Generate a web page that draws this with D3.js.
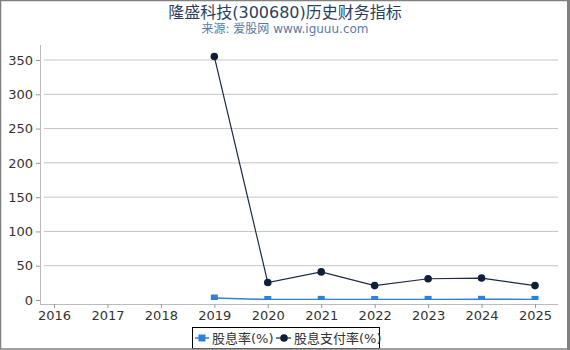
<!DOCTYPE html>
<html>
<head>
<meta charset="utf-8">
<script src="https://cdn.jsdelivr.net/npm/d3@7"></script>
<style>
  body { margin: 0; background: #fff; }
  svg { display: block; font-family: "DejaVu Sans", "Noto Sans CJK SC", sans-serif; }
</style>
</head>
<body>
<svg width="570" height="350"></svg>
<script>
const years = [2016, 2017, 2018, 2019, 2020, 2021, 2022, 2023, 2024, 2025];
const yieldYears = [2019, 2020, 2021, 2022, 2023, 2024, 2025];
const dividendYield = [2.9, 0.8, 0.9, 0.8, 0.9, 1.0, 0.9];
const payoutYears = [2019, 2020, 2021, 2022, 2023, 2024, 2025];
const payoutRatio = [355, 25.5, 41, 21, 31, 32, 21];
const yTicks = [0, 50, 100, 150, 200, 250, 300, 350];

const svg = d3.select("svg");
const W = 570, H = 350;

// --- FRAME ---
svg.append("rect").attr("x", 0).attr("y", 0).attr("width", W).attr("height", H).attr("fill", "#fff");

// --- TITLES ---
svg.append("text").attr("x", 285).attr("y", 18).attr("text-anchor", "middle")
  .attr("font-size", 16).attr("fill", "#2a3f5f").text("隆盛科技(300680)历史财务指标");
svg.append("text").attr("x", 285).attr("y", 33).attr("text-anchor", "middle")
  .attr("font-size", 12).attr("fill", "#5a7aa8").text("来源: 爱股网 www.iguuu.com");

// --- SCALES ---
const x = d3.scaleLinear().domain([2016, 2025]).range([54, 535]);
const y = d3.scaleLinear().domain([0, 350]).range([300, 60]);

// --- GRID ---
svg.append("g").selectAll("line").data(yTicks.filter(d => d > 0)).enter().append("line")
  .attr("x1", 44).attr("x2", 558)
  .attr("y1", d => y(d)).attr("y2", d => y(d))
  .attr("stroke", "#c4c4c4").attr("stroke-width", 1);

// --- Y AXIS ---
const yAxis = svg.append("g").attr("transform", "translate(40,0)")
  .call(d3.axisLeft(y).tickValues(yTicks).tickSize(4).tickPadding(3));
yAxis.select(".domain").attr("d", "M0.5,45V304").attr("stroke", "#bbb");
yAxis.selectAll(".tick line").attr("stroke", "#999");
yAxis.selectAll("text").attr("font-size", 13).attr("fill", "#333").attr("font-family", "DejaVu Sans");

// --- X AXIS ---
const xAxis = svg.append("g").attr("transform", "translate(0,304)")
  .call(d3.axisBottom(x).tickValues(years).tickFormat(d3.format("d")).tickSize(4).tickPadding(3));
xAxis.select(".domain").attr("d", "M40,0.5H558").attr("stroke", "#bbb");
xAxis.selectAll(".tick line").attr("stroke", "#999");
xAxis.selectAll("text").attr("font-size", 13).attr("fill", "#333").attr("font-family", "DejaVu Sans");

// --- CLIP ---
svg.append("clipPath").attr("id", "plot")
  .append("rect").attr("x", 40).attr("y", 40).attr("width", 520).attr("height", 260);

// --- DIVIDEND YIELD ---
const yieldData = yieldYears.map((d, i) => ({ year: d, v: dividendYield[i] }));
const gY = svg.append("g").attr("clip-path", "url(#plot)");
gY.append("path").datum(yieldData)
  .attr("d", d3.line().x(d => x(d.year)).y(d => y(d.v)))
  .attr("fill", "none").attr("stroke", "#2f80d8").attr("stroke-width", 1.5);
gY.selectAll("rect").data(yieldData).enter().append("rect")
  .attr("x", d => x(d.year) - 3.5).attr("y", d => y(d.v) - 3.5)
  .attr("width", 7).attr("height", 7).attr("fill", "#2f80d8");

// --- PAYOUT RATIO ---
const payData = payoutYears.map((d, i) => ({ year: d, v: payoutRatio[i] }));
svg.append("path").datum(payData)
  .attr("d", d3.line().x(d => x(d.year)).y(d => y(d.v)))
  .attr("fill", "none").attr("stroke", "#1b2a44").attr("stroke-width", 1.2);
svg.append("g").selectAll("circle").data(payData).enter().append("circle")
  .attr("cx", d => x(d.year)).attr("cy", d => y(d.v)).attr("r", 3.8)
  .attr("fill", "#0f1f3a");

// --- LEGEND ---
const lg = svg.append("g");
lg.append("rect").attr("x", 192.5).attr("y", 327.5).attr("width", 187).attr("height", 21)
  .attr("fill", "#fff").attr("stroke", "#000").attr("stroke-width", 1);
lg.append("line").attr("x1", 195).attr("x2", 209).attr("y1", 338).attr("y2", 338)
  .attr("stroke", "#2f80d8").attr("stroke-width", 1.5);
lg.append("rect").attr("x", 198.5).attr("y", 334.5).attr("width", 7).attr("height", 7).attr("fill", "#2f80d8");
lg.append("text").attr("x", 212).attr("y", 343).attr("font-size", 13).attr("fill", "#333").text("股息率(%)");
lg.append("line").attr("x1", 276).attr("x2", 291).attr("y1", 338).attr("y2", 338)
  .attr("stroke", "#1b2a44").attr("stroke-width", 1.2);
lg.append("circle").attr("cx", 284).attr("cy", 338).attr("r", 3.8).attr("fill", "#0f1f3a");
lg.append("text").attr("x", 294).attr("y", 343).attr("font-size", 13).attr("fill", "#333").text("股息支付率(%)");

// --- BORDER ---
svg.append("rect").attr("x", 0.5).attr("y", 0.5).attr("width", W - 2).attr("height", H - 1.5)
  .attr("fill", "none").attr("stroke", "#808080").attr("stroke-width", 1.5);
svg.append("line").attr("x1", W - 1.5).attr("x2", W - 1.5).attr("y1", 0).attr("y2", H)
  .attr("stroke", "#808080").attr("stroke-width", 3);
</script>
</body>
</html>
